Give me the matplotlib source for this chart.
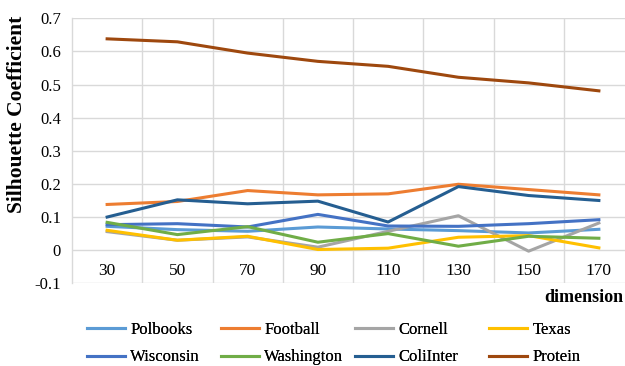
import matplotlib
matplotlib.use("Agg")
import matplotlib.pyplot as plt
from matplotlib.ticker import FixedLocator, FormatStrFormatter

plt.rcParams['font.family'] = ['Liberation Serif', 'DejaVu Serif']

dimensions = ["30", "50", "70", "90", "110", "130", "150", "170"]

polbooks = [0.072, 0.062, 0.057, 0.070, 0.064, 0.059, 0.052, 0.063]
football = [0.138, 0.147, 0.180, 0.167, 0.170, 0.199, 0.183, 0.167]
cornell = [0.056, 0.030, 0.040, 0.009, 0.057, 0.104, -0.003, 0.082]
texas = [0.060, 0.030, 0.042, 0.002, 0.006, 0.039, 0.044, 0.007]
wisconsin = [0.077, 0.080, 0.070, 0.108, 0.073, 0.072, 0.080, 0.092]
washington = [0.084, 0.047, 0.071, 0.024, 0.050, 0.012, 0.042, 0.036]
coliinter = [0.100, 0.152, 0.140, 0.148, 0.085, 0.192, 0.165, 0.150]
protein = [0.638, 0.629, 0.595, 0.570, 0.555, 0.522, 0.505, 0.481]

series = [
    ("Polbooks", polbooks, "#5B9BD5"),
    ("Football", football, "#ED7D31"),
    ("Cornell", cornell, "#A5A5A5"),
    ("Texas", texas, "#FFC000"),
    ("Wisconsin", wisconsin, "#4472C4"),
    ("Washington", washington, "#70AD47"),
    ("ColiInter", coliinter, "#255E91"),
    ("Protein", protein, "#9E480E"),
]

fig = plt.figure(figsize=(6.25, 3.66), dpi=100)
ax = fig.add_axes([72 / 625, 1 - 283.3 / 366, 562 / 625, 265 / 366])

x = list(range(len(dimensions)))
for name, vals, color in series:
    ax.plot(x, vals, color=color, lw=2.2, label=name, solid_joinstyle="round")

grid_c = "#D9D9D9"
ax.set_xlim(-0.5, len(dimensions) - 0.5)
ax.set_ylim(-0.1, 0.7)
ax.yaxis.set_major_locator(FixedLocator([-0.1, 0, 0.1, 0.2, 0.3, 0.4, 0.5, 0.6, 0.7]))
ax.yaxis.set_major_formatter(FormatStrFormatter('%g'))
ax.grid(axis="y", color=grid_c, lw=1.0)
ax.set_xticks(x)
ax.set_xticklabels(dimensions)
ax.set_xticks([i + 0.5 for i in x[:-1]], minor=True)
ax.grid(axis="x", which="minor", color=grid_c, lw=1.0)
ax.set_axisbelow(True)

for s in ["top", "right"]:
    ax.spines[s].set_visible(False)
ax.spines["left"].set_color(grid_c)
ax.spines["left"].set_linewidth(1.0)
ax.spines["bottom"].set_position(("data", 0))
ax.spines["bottom"].set_visible(False)
ax.tick_params(axis="both", which="both", length=0)
ax.tick_params(axis="x", labelsize=12.5, pad=9)
ax.tick_params(axis="y", labelsize=12, pad=8)

fig.text(17 / 625, 1 - 114 / 366, "Silhouette Coefficient", rotation=90,
         ha="center", va="center", fontsize=15.5, fontweight="bold")
fig.text(623 / 625, 1 - 297 / 366, "dimension", ha="right", va="center",
         fontsize=13, fontweight="bold")

# legend laid out as four evenly spaced columns, filled row by row
handles, labels = ax.get_legend_handles_labels()
col_left = [87, 221, 355, 489]
for c, xl in enumerate(col_left):
    idx = [c, c + 4]
    leg = fig.legend([handles[i] for i in idx], [labels[i] for i in idx],
                     loc="upper left", bbox_to_anchor=(xl / 625, 1 - 322 / 366),
                     frameon=False, fontsize=12, handlelength=2.3, handletextpad=0.3,
                     borderpad=0, borderaxespad=0, labelspacing=0.68)
    fig.add_artist(leg)

fig.savefig("out.png", dpi=100)
